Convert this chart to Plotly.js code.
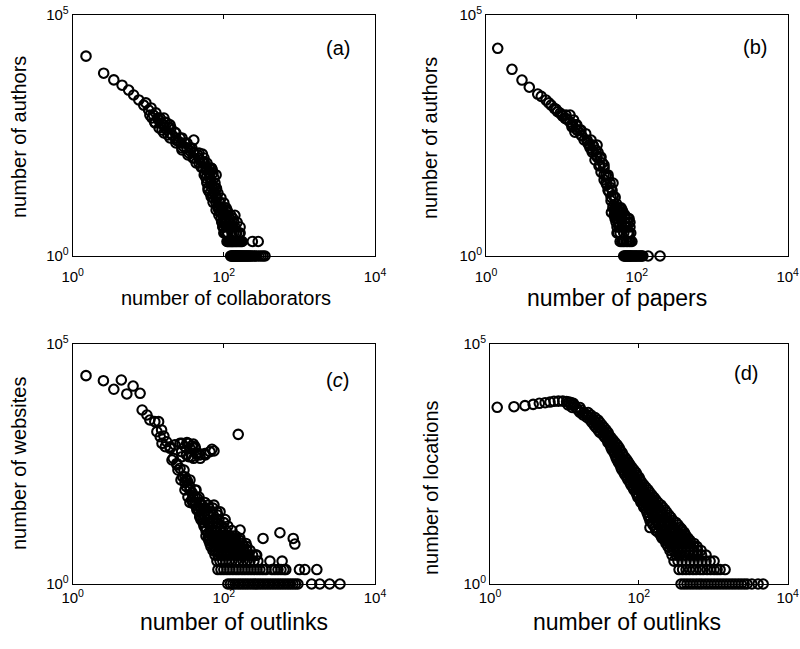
<!DOCTYPE html>
<html><head><meta charset="utf-8">
<script src="https://cdn.plot.ly/plotly-3.0.1.min.js"></script>
<style>html,body{margin:0;padding:0;background:#fff}#chart{width:800px;height:649px}</style>
</head><body><div id="chart"></div>
<script>
// (a) number of authors vs number of collaborators  [x, y]
const aPoints = [
[1.5,14000],[2.57,6200],[3.5,4500],[4.5,3500],[5.5,2770],[6.4,2190],[7.5,1730],[8.7,1350],[10.1,1070],[11.7,840],[13.7,665],[16,525],[18.6,460],[20.6,325],[25.2,235],[29.4,185],
[9.3,1500],[10.9,1180],[12.6,930],[10.5,840],[14.3,730],[12.2,600],[16.6,600],[15.2,410],[19.4,525],[22.5,370],[18.2,325],[26.3,280],[23.2,255],[30.6,220],[35.6,175],[27.9,158],[40,142],[33.5,125],[45,125],[39,108],[48,98],[43,85],[55,90],[50,70],[58,61],[64,67],[55,48],[65,42],[60,34],[70,30],[62,23],[74,21],[68,17],[79,16],[72,13],[83,11],
[52,130],[36,150],[70,61],[75,27],[80,25],[88,13],
[11.2,730],[13.4,730],[16.1,730],[12.3,574],[14.7,574],[17.7,574],[13.9,453],[16.6,453],[20,453],[16.1,356],[19.4,356],[23.2,356],
[19.4,281],[23.2,281],[27.9,281],[23.2,221],[27.1,221],[32.5,221],[27.9,174],[32.5,174],[37.8,174],[34.5,137],[40.2,137],[46.9,137],
[40.2,108],[46.9,108],[54.6,108],[46.9,85],[53,85],[59.7,85],[53,67],[59.7,67],[67.6,67],[56.2,53],[63.5,53],[71.8,53],
[58,41.5],[65.5,41.5],[74,41.5],[59.7,32.7],[67.6,32.7],[76.3,32.7],[61.7,25.8],[69.7,25.8],[78.7,25.8],[65.5,20.3],[74,20.3],[83.5,20.3],
[71.8,16],[81,16],[91.6,16],[78.7,12.6],[88.7,12.6],[100,12.6],
[92,10],[83.5,10],[94.4,10],[107,10],[79,9],[108,9],[86,9],[97,9],[110,9],[100,8],[89,8],[113,8],
[86,7],[140,7],[97,7],[110,7],[124,7],[107,6],[120,6],[91.6,6],[104,6],[117,6],[132,6],
[94,5],[117,5],[150,5],[95,5],[102,5],[107,5],[120,5],[136,5],
[100,4],[123,4],[164,4],[130,4],[98,4],[115,4],[125,4],[97,4],[110,4],[140,4],
[110,3],[135,3],[148,3],[160,3],[105,3],[112,3],[100,3],[113,3],[128,3],[144,3],[164,3],
[40,255],[69,66],[79,48],
[110,2],[113,2],[116,2],[119,2],[122,2],[125,2],[128,2],[131,2],[134,2],[138,2],[142,2],[146,2],[150,2],[155,2],[160,2],[165,2],[170,2],[175,2],[238,2],[285,2],
[123,1],[126,1],[129,1],[132,1],[135,1],[138,1],[141,1],[144,1],[147,1],[150,1],[154,1],[158,1],[162,1],[166,1],[170,1],[175,1],[180,1],[185,1],[190,1],[196,1],[202,1],[208,1],[215,1],[222,1],[230,1],[240,1],[255,1],[270,1],[290,1],[310,1],[330,1],[350,1]
];
// (b) number of authors vs number of papers
const bPoints = [
[1.43,20400],[2.21,7470],[3.0,4470],[3.75,3170],[4.85,2290],[6.25,1720],[7.3,1350],[8.05,1160],[8.9,985],[10.4,800],[12.1,665],[14.1,525],[16.4,410],[18.2,325],
[5.4,2050],[6.8,1500],[8.5,1100],[9.6,920],[11.2,720],
[11.4,720],[13,600],[14.5,665],[13.8,475],[16,525],[15.1,370],[17.7,410],[18.7,310],[21,345],[20,255],[22.4,220],[24,175],[26.5,190],[25.6,142],[28.6,125],[30.6,142],[27.9,98],[32.5,108],[35,85],[31.5,74],[36.8,67],[33.5,55],[39,48],[36.8,38],[41.7,42],[40,30],[45.5,26],[43,21],[48.5,18],[45.5,14],[51,16],[48.5,11],[54,12],[51,9],[58,10],
[10.2,840],[11.5,840],[13,840],[13.8,525],[15.6,525],[16.1,410],[18.2,410],[21.9,255],[24.7,255],[23.2,200],[26.2,200],[29.7,200],
[25.5,158],[28.8,158],[29.7,113],[33.5,113],[32.5,77],[36.7,77],[36.7,48],[41.5,48],[39,32.7],[44.1,32.7],[48.3,32.7],[41.5,23],[46.9,23],[45.5,16.7],[51.4,16.7],
[48.3,10],[54.6,10],[61.7,10],[49.9,9],[56.2,9],[63.7,9],[46,8],[60,8],[51.4,8],[57.9,8],[65.6,8],[53,7],[63,7],[49.9,7],[56.2,7],[69.8,7],
[54,6],[70,6],[76,6],[51.4,6],[60,6],[63.7,6],[78.8,6],[53,5],[63,5],[76,5],[57.9,5],[69.8,5],[81,5],
[58,4],[70,4],[81,4],[54.6,4],[63.7,4],[74,4],[56,3],[67,3],[76,3],[54.6,3],[60,3],[78.8,3],[83,3],
[60,2],[63,2],[65.6,2],[68,2],[71.9,2],[75,2],[78.8,2],[82,2],[86,2],
[67,1],[69,1],[71,1],[73,1],[75,1],[77,1],[79,1],[81,1],[83,1],[85,1],[88,1],[91,1],[94,1],[97,1],[100,1],[104,1],[108,1],[112,1],[116,1],[120,1],[141,1],[203,1]
];
// (c) number of websites vs number of outlinks
const cPoints = [
[1.5,21900],[2.55,17200],[3.5,11400],[4.4,17800],[5.2,9100],[6.3,13300],[7.8,9400],
[8.3,4220],[9.6,3320],[10.5,2610],[12.2,2410],[13.7,2410],[13,1490],[14.4,1170],[15,1620],[16.1,1210],[15.2,850],[17.5,920],[16.8,725],[19.4,725],[19.5,672],[22.5,790],
[26.3,850],[27.9,850],[30.6,725],[32.5,880],[33.8,850],[35.6,670],[37.8,750],[39.5,820],[41.5,725],[41.9,672],[27.6,570],[32,490],[37.5,450],[43.5,520],[46.4,528],[48.3,490],[56,520],[56.8,487],[65.5,570],[69.6,640],[74,590],[27.9,449],[34.2,449],[39.8,416],[48.7,416],[20.6,383],[24,302],
[155,1310],
[21.4,415],[23.8,325],[26.3,257],[28.5,172],[30.6,172],[32,107],[35.6,107],[35.6,91],[37.5,56],[41.5,66],[39,48],[48,48],[44,35],[48,25],[53,21.5],[56,15.6],[62,11.4],[30.6,130],[33,140],[38,80],[42,90],[45,60],
[24.7,237],[29.7,237],[27.1,147],[31.5,147],[35.6,147],[30.6,91],[42.8,91],[33.5,65],[39,65],[46.9,65],[35.6,50],[41.5,50],[48.3,50],[56,50],
[42.8,44],[51.3,44],[61.7,44],[74,44],
[44,38],[49.8,38],[56.2,38],[63.5,38],[71.8,38],
[47,32],[56,32],[67.6,32],[81,32],[89,32],
[48.3,27],[55.4,27],[63.5,27],[72.8,27],[83.5,27],
[49.8,22],[59.7,22],[71.8,22],[86.1,22],[104,22],
[53,19],[61.7,19],[71.8,19],[83.5,19],[100,19],
[54.6,16],[65.5,16],[78.7,16],[94.4,16],[113,16],
[58,13],[67.6,13],[78.7,13],[91.6,13],[107,13],[128,13],
[58,10],[63.5,10],[69.7,10],[76.3,10],[83.5,10],[91.6,10],[100,10],[110,10],[120,10],[132,10],[144,10],
[61.7,9],[71.8,9],[83.5,9],[97.3,9],[113,9],[136,9],[163,9],
[63.5,8],[69.7,8],[76.3,8],[83.5,8],[91.6,8],[100,8],[110,8],[120,8],[132,8],[145,8],[163,8],
[65.5,7],[76.3,7],[88.7,7],[104,7],[120,7],[145,7],[174,7],[196,7],
[67.6,6],[74,6],[81,6],[89,6],[97.3,6],[107,6],[117,6],[128,6],[140,6],[154,6],[168,6],[184,6],[202,6],
[71.8,5],[78.7,5],[86.1,5],[96,5],[107,5],[118,5],[132,5],[146,5],[163,5],[180,5],[200,5],[222,5],
[76.3,4],[83.5,4],[91.6,4],[100,4],[113,4],[124,4],[140,4],[155,4],[173,4],[193,4],[215,4],[240,4],[266,4],
[81,3],[89,3],[97,3],[106,3],[117,3],[128,3],[144,3],[160,3],[179,3],[200,3],[222,3],[250,3],[282,3],[407,3],[590,3],
[83.5,2],[91.6,2],[100,2],[110,2],[120,2],[132,2],[145,2],[158,2],[174,2],[190,2],[209,2],[229,2],[251,2],[274,2],[300,2],[329,2],[360,2],[433,2],[474,2],[520,2],[570,2],[624,2],[660,2],[1000,2],[1180,2],[1700,2],
[113,1],[122,1],[132,1],[142,1],[154,1],[166,1],[179,1],[193,1],[208,1],[225,1],[243,1],[262,1],[283,1],[305,1],[329,1],[355,1],[383,1],[413,1],[446,1],[481,1],[520,1],[561,1],[605,1],[653,1],[705,1],[760,1],[820,1],[885,1],[955,1],[1450,1],[1860,1],[2510,1],[3440,1],
[164,13.3],[330,8.9],[552,11.7],[828,8.9],[870,6.8],[272,4]
];
// (d) number of locations vs number of outlinks
const dPoints = [
[1.25,4800],[2.1,4940],[2.95,5190],[3.8,5530],[4.6,5820],[5.5,5980],[6.4,6180],[7.25,6400],[8.3,6460],[9.5,6460],[10.7,6300],[12.2,6000],[11.5,6200],[13.2,5800],
[11.2,5360],[12.3,5360],[13.5,5360],
[12.7,4750],[14.3,4750],[16.2,4750],
[15.2,4220],[16.7,4220],
[16.2,3740],[18.3,3740],[20.8,3740],
[17.8,3320],[20.1,3320],[22.8,3320],
[20.1,2940],[22.8,2940],[25.8,2940],
[22.1,2610],[25,2610],[28.3,2610],
[23.5,2315],[26.6,2315],[30,2315],
[25,2050],[28.3,2050],[32,2050],
[26.6,1820],[30,1820],[34.1,1820],
[28.3,1620],[32,1620],[36.2,1620],
[30,1433],[34.1,1433],[38.5,1433],
[33,1270],[36.2,1270],[39.8,1270],
[35.1,1127],[38.5,1127],[42.3,1127],
[37.4,1000],[41,1000],[45,1000],
[38.5,887],[43,887],[47.9,887],
[41,790],[45.7,790],[51,790],
[42.3,698],[47.9,698],[54.2,698],
[43.6,620],[49.4,620],[55.9,620],
[46.4,549],[52.5,549],[59.4,549],
[47.9,487],[54.2,487],[61.4,487],
[49.4,432],[56.8,432],[65.3,432],
[51,383],[55.9,383],[61.4,383],[69.3,383],
[53.3,340],[59.4,340],[66.2,340],[72.8,340],
[55.9,302],[61.4,302],[69.3,302],[76.2,302],
[57.6,267],[65.3,267],[72.8,267],[81,267],
[59.4,237],[67.3,237],[76.2,237],[86.1,237],
[63.1,210],[71.6,210],[81,210],[91.7,210],
[65.3,187],[73.8,187],[83.6,187],[94.6,187],
[69.3,166],[78.5,166],[88.9,166],[100.7,166],
[71.6,147],[81,147],[91.7,147],[104,147],
[76.2,130],[86.1,130],[97.5,130],[110,130],
[78.5,115],[88.9,115],[100.7,115],[117,115],
[83.6,102],[94.6,102],[107,102],[125,102],
[86.1,91],[97.5,91],[114,91],[133,91],
[91.7,80.5],[107,80.5],[121,80.5],[141,80.5],
[94.6,71],[110,71],[129,71],[150,71],
[97.5,63.4],[110,63.4],[125,63.4],[141,63.4],[160,63.4],
[104,56],[117,56],[133,56],[150,56],[170,56],
[107,49.9],[121,49.9],[137,49.9],[160,49.9],[181,49.9],
[114,44],[129,44],[150,44],[170,44],[199,44],
[117,39.2],[133,39.2],[155,39.2],[181,39.2],[211,39.2],
[125,35],[141,35],[165,35],[193,35],[225,35],
[129,30.9],[150,30.9],[176,30.9],[205,30.9],[239,30.9],
[133,27],[155,27],[181,27],[211,27],[255,27],
[137,24.3],[160,24.3],[193,24.3],[232,24.3],[271,24.3],
[141,21],[170,21],[205,21],[239,21],[288,21],
[150,19.1],[181,19.1],[218,19.1],[262,19.1],[316,19.1],
[155,17],[186,17],[225,17],[271,17],[336,17],
[165,15],[199,15],[239,15],[297,15],[358,15],
[170,13],[205,13],[255,13],[307,13],[380,13],
[181,12],[218,12],[271,12],[336,12],[405,12],
[193,11],[232,11],[279,11],[347,11],[418,11],
[199,10],[218,10],[239,10],[262,10],[288,10],[320,10],[358,10],[392,10],[431,10],
[205,9],[229,9],[255,9],[279,9],[307,9],[342,9],[380,9],[418,9],[458,9],
[225,8],[247,8],[271,8],[303,8],[336,8],[369,8],[405,8],[444,8],[488,8],
[232,7],[258,7],[288,7],[320,7],[358,7],[400,7],[444,7],[495,7],[552,7],
[247,6],[275,6],[307,6],[342,6],[380,6],[431,6],[488,6],[545,6],[606,6],
[262,5],[297,5],[336,5],[380,5],[431,5],[488,5],[552,5],[615,5],[685,5],
[279,4],[316,4],[358,4],[412,4],[473,4],[535,4],[606,4],[696,4],[800,4],
[297,3],[336,3],[380,3],[431,3],[488,3],[552,3],[625,3],[704,3],[800,3],[906,3],[1025,3],
[347,2],[387,2],[431,2],[480,2],[535,2],[589,2],[665,2],[732,2],[826,2],[920,2],[1025,2],[1125,2],[1234,2],[1441,2],
[369,1],[405,1],[444,1],[488,1],[535,1],[589,1],[645,1],[704,1],[776,1],[850,1],[934,1],[1025,1],[1125,1],[1234,1],[1355,1],[1486,1],[1630,1],[1790,1],[1963,1],[2160,1],[2365,1],[2600,1],[2845,1],[3300,1],[4000,1],[4680,1],
[141,15],[375,14]
];

const xTickVals = [1, 100, 10000];
const xTickText = ['10<sup>0</sup>', '10<sup>2</sup>', '10<sup>4</sup>'];
const yTickVals = [1, 100000];
const yTickText = ['10<sup>0</sup>', '10<sup>5</sup>'];

const FONT = 'Liberation Sans, Arial, Helvetica, sans-serif';

function trace(pts, xa, ya) {
  return {
    x: pts.map(p => p[0]), y: pts.map(p => p[1]),
    xaxis: xa, yaxis: ya, type: 'scatter', mode: 'markers', cliponaxis: false,
    marker: {symbol: 'circle-open', size: 9.5, color: '#000', line: {width: 2.1, color: '#000'}},
    hoverinfo: 'skip', showlegend: false
  };
}

function xAxis(domain, anchor, standoff) {
  return {domain, anchor, type: 'log', range: [0, 4], tickvals: xTickVals, ticktext: xTickText,
    showline: true, linecolor: '#000', linewidth: 1, mirror: 'ticks', ticks: 'inside', ticklen: 4, tickcolor: '#000',
    ticklabelstandoff: standoff,
    showgrid: false, zeroline: false, tickfont: {size: 15, color: '#000', family: FONT}, fixedrange: true};
}
function yAxis(domain, anchor) {
  return {domain, anchor, type: 'log', range: [0, 5], tickvals: yTickVals, ticktext: yTickText,
    showline: true, linecolor: '#000', linewidth: 1, mirror: 'ticks', ticks: 'inside', ticklen: 4, tickcolor: '#000',
    showgrid: false, zeroline: false, tickfont: {size: 15, color: '#000', family: FONT}, fixedrange: true};
}

const W = 800, H = 649;
const dxL = [72.7 / W, 375 / W];
const dxR1 = [486 / W, 787.7 / W];
const dxR2 = [490 / W, 787.7 / W];
const dyT = [1 - 256 / H, 1 - 15 / H];
const dyB = [1 - 584 / H, 1 - 344 / H];

function ann(text, px, py, size, angle) {
  return {text, x: px / W, y: 1 - py / H, xref: 'paper', yref: 'paper', showarrow: false,
    xanchor: 'center', yanchor: 'middle', textangle: angle || 0,
    font: {size, color: '#000', family: FONT}};
}

const layout = {
  width: W, height: H, margin: {l: 0, r: 0, t: 0, b: 0},
  paper_bgcolor: '#fff', plot_bgcolor: '#fff', showlegend: false,
  font: {family: FONT, color: '#000'},
  xaxis: xAxis(dxL, 'y', 7), yaxis: yAxis(dyT, 'x'),
  xaxis2: xAxis(dxR1, 'y2', 7), yaxis2: yAxis(dyT, 'x2'),
  xaxis3: xAxis(dxL, 'y3', 0), yaxis3: yAxis(dyB, 'x3'),
  xaxis4: xAxis(dxR2, 'y4', 0), yaxis4: yAxis(dyB, 'x4'),
  annotations: [
    ann('number of collaborators', 226, 298, 20),
    ann('number of papers', 617, 298, 23),
    ann('number of outlinks', 234, 622, 23),
    ann('number of outlinks', 627, 622, 23),
    ann('number of authors', 19, 137, 20, -90),
    ann('number of authors', 430, 138, 20, -90),
    ann('number of websites', 19, 464, 20, -90),
    ann('number of locations', 431, 487, 20, -90),
    ann('(a)', 338, 48, 20),
    ann('(b)', 755, 47, 20),
    ann('(<i>c</i>)', 337, 380, 20),
    ann('(d)', 746, 373, 20)
  ]
};

Plotly.newPlot('chart', [
  trace(aPoints, 'x', 'y'),
  trace(bPoints, 'x2', 'y2'),
  trace(cPoints, 'x3', 'y3'),
  trace(dPoints, 'x4', 'y4')
], layout, {staticPlot: true, displayModeBar: false});
</script>
</body></html>
